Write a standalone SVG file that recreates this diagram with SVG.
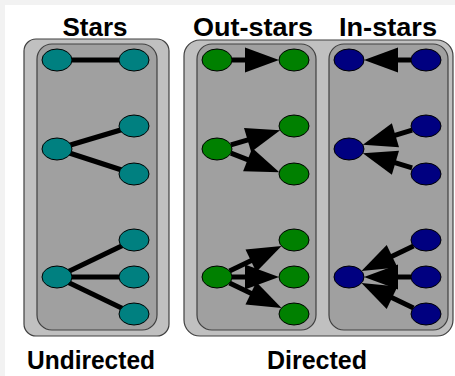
<svg xmlns="http://www.w3.org/2000/svg" width="455" height="376" viewBox="0 0 455 376">
  <style>
    .title { font-family: "Liberation Sans", Arial, sans-serif; font-weight: bold; font-size: 25px; fill: #000; text-anchor: middle; }
    .outer { fill: #c0c0c0; stroke: #404040; stroke-width: 1.2; }
    .inner { fill: #a0a0a0; stroke: #404040; stroke-width: 1.2; }
    .edge { stroke: #000; stroke-width: 5; fill: none; }
    .arrow { stroke: #000; stroke-width: 5; fill: none; marker-end: url(#head); }
    .teal { fill: #008080; stroke: #000; stroke-width: 1; }
    .green { fill: #008000; stroke: #000; stroke-width: 1; }
    .navy { fill: #000080; stroke: #000; stroke-width: 1; }
  </style>
  <defs>
    <marker id="head" markerUnits="userSpaceOnUse" orient="auto" refX="0" refY="0" markerWidth="80" markerHeight="80" viewBox="-40 -40 80 80" overflow="visible">
      <path d="M-4,-12.5 L30,0 L-4,12.5 Z" fill="#000"/>
    </marker>
  </defs>
  <rect x="0" y="0" width="455" height="376" fill="#f2f2f2"/>
  <rect x="5" y="5" width="450" height="371" fill="#ffffff"/>

  <g id="titles">
    <text class="title" x="95" y="36" textLength="65" lengthAdjust="spacingAndGlyphs">Stars</text>
    <text class="title" x="253" y="36" textLength="120" lengthAdjust="spacingAndGlyphs">Out-stars</text>
    <text class="title" x="388" y="36" textLength="98" lengthAdjust="spacingAndGlyphs">In-stars</text>
    <text class="title" x="91" y="369" textLength="128" lengthAdjust="spacingAndGlyphs">Undirected</text>
    <text class="title" x="317" y="369" textLength="100" lengthAdjust="spacingAndGlyphs">Directed</text>
  </g>

  <g id="undirected-box">
    <rect class="outer" x="24" y="39" width="145" height="297" rx="12"/>
    <rect class="inner" x="37" y="44" width="120" height="286" rx="15"/>
  </g>
  <g id="directed-box">
    <rect class="outer" x="184" y="40" width="269" height="296" rx="16"/>
    <rect class="inner" x="197" y="44" width="119" height="286" rx="15"/>
    <rect class="inner" x="329" y="44" width="119" height="286" rx="15"/>
  </g>

  <g id="connectors">
    <!-- undirected -->
    <line class="edge" x1="57" y1="60" x2="134" y2="60"/>
    <line class="edge" x1="57" y1="149" x2="134" y2="126"/>
    <line class="edge" x1="57" y1="149" x2="134" y2="174"/>
    <line class="edge" x1="57" y1="277" x2="134" y2="240"/>
    <line class="edge" x1="57" y1="277" x2="134" y2="277"/>
    <line class="edge" x1="57" y1="277" x2="134" y2="314"/>
    <!-- out-stars (lines end 30px before tip) -->
    <line class="arrow" x1="232" y1="60" x2="249" y2="60"/>
    <line class="arrow" x1="230.9" y1="144.9" x2="251.4" y2="138.8"/>
    <line class="arrow" x1="230.9" y1="153.1" x2="251.4" y2="161.2"/>
    <line class="arrow" x1="229.5" y1="271" x2="254.5" y2="259"/>
    <line class="arrow" x1="232" y1="277" x2="249" y2="277"/>
    <line class="arrow" x1="229.5" y1="283" x2="254.5" y2="295"/>
    <!-- in-stars -->
    <line class="arrow" x1="411" y1="60" x2="394" y2="60"/>
    <line class="arrow" x1="412.1" y1="130.2" x2="391.6" y2="136.3"/>
    <line class="arrow" x1="412.1" y1="167.8" x2="391.6" y2="161.7"/>
    <line class="arrow" x1="413.5" y1="246" x2="388.5" y2="258"/>
    <line class="arrow" x1="411" y1="277" x2="394" y2="277"/>
    <line class="arrow" x1="413.5" y1="308" x2="388.5" y2="296"/>
  </g>

  <g id="stars-nodes">
    <ellipse id="s1a" class="teal" cx="57" cy="60" rx="15" ry="11"/>
    <ellipse id="s1b" class="teal" cx="134" cy="60" rx="15" ry="11"/>
    <ellipse id="s2a" class="teal" cx="57" cy="149" rx="15" ry="11"/>
    <ellipse id="s2b" class="teal" cx="134" cy="126" rx="15" ry="11"/>
    <ellipse id="s2c" class="teal" cx="134" cy="174" rx="15" ry="11"/>
    <ellipse id="s3a" class="teal" cx="57" cy="277" rx="15" ry="11"/>
    <ellipse id="s3b" class="teal" cx="134" cy="240" rx="15" ry="11"/>
    <ellipse id="s3c" class="teal" cx="134" cy="277" rx="15" ry="11"/>
    <ellipse id="s3d" class="teal" cx="134" cy="314" rx="15" ry="11"/>
  </g>
  <g id="outstars-nodes">
    <ellipse id="o1a" class="green" cx="217" cy="60" rx="15" ry="11"/>
    <ellipse id="o1b" class="green" cx="294" cy="60" rx="15" ry="11"/>
    <ellipse id="o2a" class="green" cx="217" cy="149" rx="15" ry="11"/>
    <ellipse id="o2b" class="green" cx="294" cy="126" rx="15" ry="11"/>
    <ellipse id="o2c" class="green" cx="294" cy="174" rx="15" ry="11"/>
    <ellipse id="o3a" class="green" cx="217" cy="277" rx="15" ry="11"/>
    <ellipse id="o3b" class="green" cx="294" cy="240" rx="15" ry="11"/>
    <ellipse id="o3c" class="green" cx="294" cy="277" rx="15" ry="11"/>
    <ellipse id="o3d" class="green" cx="294" cy="314" rx="15" ry="11"/>
  </g>
  <g id="instars-nodes">
    <ellipse id="i1a" class="navy" cx="349" cy="60" rx="15" ry="11"/>
    <ellipse id="i1b" class="navy" cx="426" cy="60" rx="15" ry="11"/>
    <ellipse id="i2a" class="navy" cx="349" cy="149" rx="15" ry="11"/>
    <ellipse id="i2b" class="navy" cx="426" cy="126" rx="15" ry="11"/>
    <ellipse id="i2c" class="navy" cx="426" cy="174" rx="15" ry="11"/>
    <ellipse id="i3a" class="navy" cx="349" cy="277" rx="15" ry="11"/>
    <ellipse id="i3b" class="navy" cx="426" cy="240" rx="15" ry="11"/>
    <ellipse id="i3c" class="navy" cx="426" cy="277" rx="15" ry="11"/>
    <ellipse id="i3d" class="navy" cx="426" cy="314" rx="15" ry="11"/>
  </g>
</svg>
